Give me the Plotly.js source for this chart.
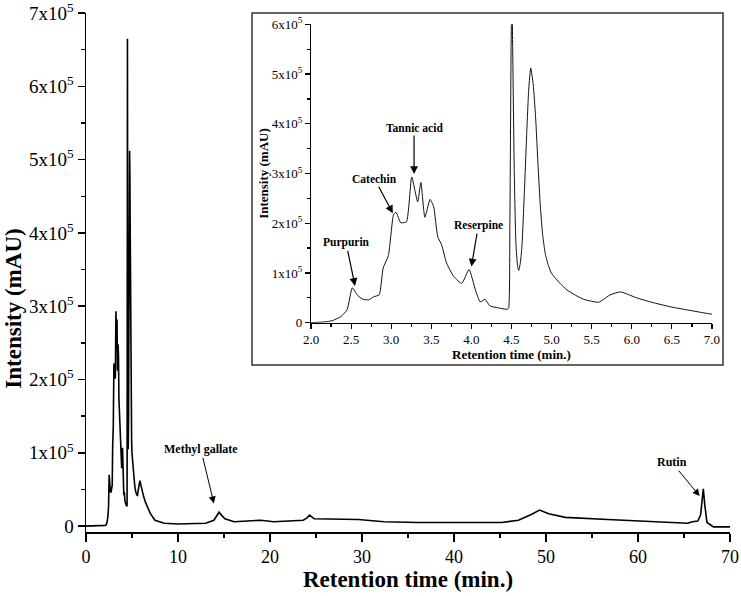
<!DOCTYPE html>
<html>
<head>
<meta charset="utf-8">
<script src="https://cdn.plot.ly/plotly-3.0.1.min.js"></script>
<style>html,body{margin:0;padding:0;background:#fff;}#chart{width:741px;height:596px;}</style>
</head>
<body>
<div id="chart"></div>
<script>
// Retention time (min) and intensity (mAU)
const timeMin = [
  0, 1.0, 2.0, 2.11, 2.2, 2.28, 2.37, 2.45, 2.515, 2.58, 2.65, 2.72, 2.78, 2.85, 2.90, 2.965,
  3.03, 3.06, 3.12, 3.19, 3.256, 3.33, 3.37, 3.42, 3.485, 3.53, 3.58, 3.63, 3.69, 3.78, 3.88,
  3.97, 4.05, 4.11, 4.17, 4.23, 4.36, 4.45, 4.465, 4.48, 4.495, 4.505, 4.515, 4.535, 4.555,
  4.575, 4.59, 4.61, 4.63, 4.66, 4.69, 4.715, 4.74, 4.77, 4.80, 4.83, 4.86, 4.89, 4.92, 4.96,
  5.00, 5.10, 5.19, 5.30, 5.40, 5.50, 5.585, 5.65, 5.73, 5.86, 5.95, 6.06, 6.25, 6.48, 6.75,
  7.0, 7.5, 8.5, 10.0, 13.0, 13.9, 14.2, 14.46, 14.8, 15.1, 16.1, 17.5, 19.0, 20.4, 23.6,
  24.0, 24.3, 24.8, 26.8, 29.6, 32.4, 36.0, 45.2, 47.0, 48.4, 49.3, 50.3, 52.1, 56.7, 61.3,
  65.4, 65.9, 66.5, 66.8, 67.0, 67.1, 67.25, 67.5, 68.2, 70.0
];
const intensity = [
  0, 0, 0, 1000, 2000, 5000, 12000, 26000, 70000, 55000, 47000, 46000, 52000, 56000, 110000, 135000,
  218000, 222000, 201000, 203000, 293000, 243000, 282000, 212000, 248000, 233000, 173000, 156000, 120000, 93000, 79000,
  107000, 66000, 42000, 47000, 34000, 29000, 27000, 30000, 200000, 550000, 665000, 550000, 300000, 160000,
  115000, 105000, 120000, 153000, 260000, 381000, 470000, 512000, 480000, 415000, 320000, 233000, 175000, 140000, 115000,
  99000, 80000, 66000, 55000, 47000, 43000, 41000, 47000, 56000, 62000, 57000, 50000, 41000, 32000, 24000,
  17000, 8000, 4000, 3000, 4000, 8000, 15000, 19000, 14000, 10000, 6000, 7000, 8000, 6000, 8000,
  11000, 15000, 10000, 10000, 9000, 6000, 5000, 5000, 8000, 16000, 22000, 17000, 12000, 9000, 6000,
  4000, 6000, 7000, 15000, 45000, 51000, 30000, 5000, -1000, -1000
];

// Tick labels
const mainYTickVals = [0, 100000, 200000, 300000, 400000, 500000, 600000, 700000];
const mainYTickText = ['0', '1x10<sup>5</sup>', '2x10<sup>5</sup>', '3x10<sup>5</sup>', '4x10<sup>5</sup>', '5x10<sup>5</sup>', '6x10<sup>5</sup>', '7x10<sup>5</sup>'];
const insetYTickVals = [0, 100000, 200000, 300000, 400000, 500000, 600000];
const insetYTickText = ['0', '1x10<sup>5</sup>', '2x10<sup>5</sup>', '3x10<sup>5</sup>', '4x10<sup>5</sup>', '5x10<sup>5</sup>', '6x10<sup>5</sup>'];

// Labelled compounds
const mainLabels = ['Methyl gallate', 'Rutin'];
const mainLabelTime = [13.9, 66.7];
const mainLabelInt = [31000, 41000];
const insetLabels = ['Purpurin', 'Catechin', 'Tannic acid', 'Reserpine'];
const insetLabelTime = [2.549, 3.02, 3.285, 4.0];
const insetLabelInt = [74000, 220000, 299000, 113000];

const FONT = 'Liberation Serif, Times New Roman, serif';
const mainOffsets = [[-13, -54], [-28, -34]];
const insetOffsets = [[-9, -43], [-18, -34], [0, -46], [7, -41]];

const traces = [
  {x: timeMin, y: intensity, type: 'scatter', mode: 'lines', xaxis: 'x', yaxis: 'y',
   line: {color: '#000', width: 1.6}, hoverinfo: 'skip'},
  {x: timeMin, y: intensity, type: 'scatter', mode: 'lines', xaxis: 'x2', yaxis: 'y2',
   line: {color: '#111', width: 1, shape: 'spline', smoothing: 0.5}, hoverinfo: 'skip'}
];

const annotations = [];
mainLabels.forEach((t, i) => annotations.push({
  text: '<b>' + t + '</b>', x: mainLabelTime[i], y: mainLabelInt[i], xref: 'x', yref: 'y',
  ax: mainOffsets[i][0], ay: mainOffsets[i][1], showarrow: true, arrowhead: 2, arrowsize: 1.4,
  arrowwidth: 1, arrowcolor: '#000', font: {family: FONT, size: 12, color: '#000'}
}));
insetLabels.forEach((t, i) => annotations.push({
  text: '<b>' + t + '</b>', x: insetLabelTime[i], y: insetLabelInt[i], xref: 'x2', yref: 'y2',
  ax: insetOffsets[i][0], ay: insetOffsets[i][1], showarrow: true, arrowhead: 2, arrowsize: 1.3,
  arrowwidth: 1.2, arrowcolor: '#000', font: {family: FONT, size: 11.5, color: '#000'}
}));
// main y-axis title
annotations.push({
  text: '<b>Intensity (mAU)</b>', xref: 'paper', yref: 'paper', x: -0.112, y: 0.43,
  xanchor: 'center', yanchor: 'middle', textangle: -90, showarrow: false,
  font: {family: FONT, size: 23, color: '#000'}
});

const layout = {
  width: 741, height: 596,
  margin: {l: 86, r: 11, t: 13, b: 64},
  paper_bgcolor: '#fff', plot_bgcolor: '#fff',
  showlegend: false,
  font: {family: FONT, color: '#000'},
  xaxis: {
    range: [0, 70], showline: true, linecolor: '#000', linewidth: 1.5, showgrid: false, zeroline: false,
    ticks: 'outside', ticklen: 8, tickwidth: 1.5, tickcolor: '#000', tick0: 0, dtick: 10,
    tickfont: {family: FONT, size: 18, color: '#000'}, ticklabeloverflow: 'allow',
    minor: {dtick: 5, tick0: 0, ticks: 'outside', ticklen: 4, tickwidth: 1.5, tickcolor: '#000', showgrid: false},
    title: {text: '<b>Retention time (min.)</b>', font: {family: FONT, size: 23, color: '#000'}, standoff: 5}
  },
  yaxis: {
    range: [-8000, 700000], showline: true, linecolor: '#000', linewidth: 1.5, showgrid: false, zeroline: false,
    ticks: 'outside', ticklen: 7, tickwidth: 1.5, tickcolor: '#000',
    tickmode: 'array', tickvals: mainYTickVals, ticktext: mainYTickText,
    tickfont: {family: FONT, size: 19, color: '#000'}, ticklabeloverflow: 'allow',
    minor: {tickmode: 'array', tickvals: [50000, 150000, 250000, 350000, 450000, 550000, 650000],
            ticks: 'outside', ticklen: 4, tickwidth: 1.5, tickcolor: '#000', showgrid: false}
  },
  xaxis2: {
    domain: [0.3494, 0.9720], anchor: 'y2', range: [2, 7],
    showline: true, linecolor: '#000', linewidth: 1.2, showgrid: false, zeroline: false,
    ticks: 'outside', ticklen: 5, tickwidth: 1.2, tickcolor: '#000', tick0: 2, dtick: 0.5, tickformat: '.1f',
    tickfont: {family: FONT, size: 13, color: '#000'}, ticklabeloverflow: 'allow',
    minor: {dtick: 0.25, tick0: 2, ticks: 'outside', ticklen: 3, tickwidth: 1.2, tickcolor: '#000', showgrid: false},
    title: {text: '<b>Retention time (min.)</b>', font: {family: FONT, size: 13, color: '#000'}, standoff: 1}
  },
  yaxis2: {
    domain: [0.4033, 0.9782], anchor: 'x2', range: [0, 600000],
    showline: true, linecolor: '#000', linewidth: 1.2, showgrid: false, zeroline: false,
    ticks: 'outside', ticklen: 5, tickwidth: 1.2, tickcolor: '#000',
    tickmode: 'array', tickvals: insetYTickVals, ticktext: insetYTickText,
    tickfont: {family: FONT, size: 13, color: '#000'}, ticklabeloverflow: 'allow',
    minor: {tickmode: 'array', tickvals: [50000, 150000, 250000, 350000, 450000, 550000],
            ticks: 'outside', ticklen: 3, tickwidth: 1.2, tickcolor: '#000', showgrid: false},
    title: {text: '<b>Intensity (mAU)</b>', font: {family: FONT, size: 13, color: '#000'}, standoff: 0}
  },
  shapes: [{
    type: 'rect', xref: 'paper', yref: 'paper', x0: 0.2578, x1: 0.9891, y0: 0.3218, y1: 1.0,
    line: {color: '#333', width: 1.5}, fillcolor: 'rgba(0,0,0,0)', layer: 'above'
  }],
  annotations: annotations
};

Plotly.newPlot('chart', traces, layout, {staticPlot: true, displayModeBar: false});
</script>
</body>
</html>
